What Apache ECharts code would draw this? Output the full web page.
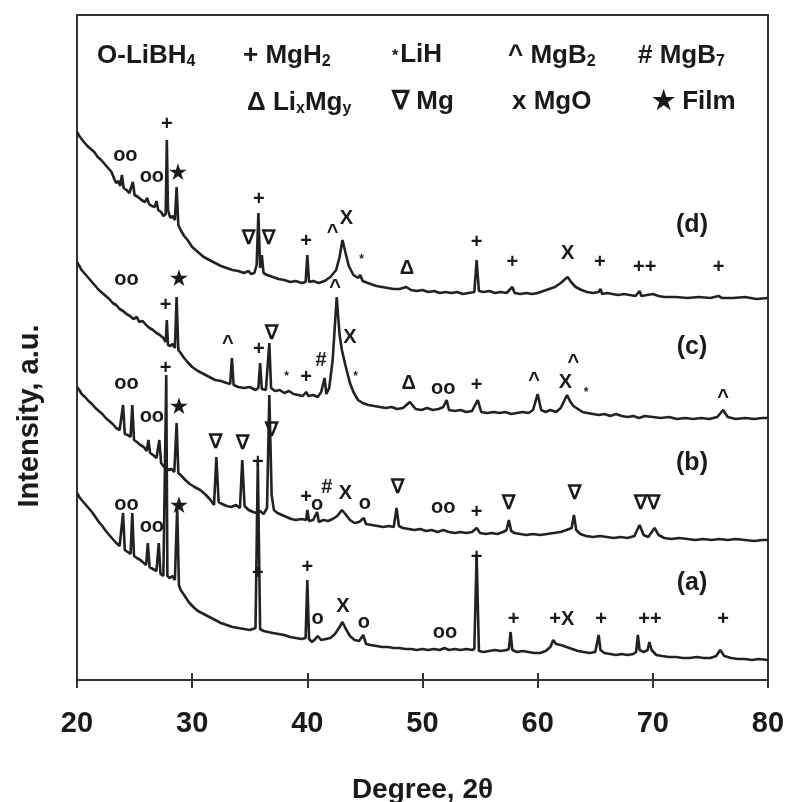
<!DOCTYPE html>
<html>
<head>
<meta charset="utf-8">
<script src="https://cdn.jsdelivr.net/npm/echarts@6/dist/echarts.min.js"></script>
<style>
  html, body { margin: 0; padding: 0; background: #fff; }
  #tu { width: 792px; height: 802px; }
</style>
</head>
<body>
<div id="tu"></div>
<script>
// x ticks
var xTicks = [20, 30, 40, 50, 60, 70, 80];

// XRD patterns, [2theta, intensity offset a.u.]
var curveD = [[20.0,548],[20.2,544],[20.4,541],[20.6,538],[20.9,534],[21.2,531],[21.5,528],[21.8,523],[22.1,520],[22.4,516],[22.7,512],[23.0,508],[23.2,502],[23.4,497],[23.6,499],[23.75,494],[23.9,505],[24.05,492],[24.3,490],[24.55,487],[24.7,489],[24.85,498],[25.0,485],[25.3,483],[25.6,480],[25.9,478],[26.1,482],[26.25,476],[26.5,474],[26.75,473],[26.9,479],[27.05,470],[27.3,468],[27.5,464],[27.7,466],[27.8,540],[27.9,470],[28.1,462],[28.3,464],[28.5,460],[28.65,493],[28.8,455],[29.0,450],[29.3,444],[29.6,440],[30.0,433],[30.5,428],[31.0,423],[31.5,420],[32.0,417],[32.5,414],[33.0,412],[33.5,410],[34.0,409],[34.5,407],[34.9,409],[35.1,406],[35.4,407],[35.6,415],[35.75,467],[35.9,412],[36.05,425],[36.2,407],[36.5,405],[37.0,403],[37.5,401],[38.0,400],[38.5,398],[39.0,399],[39.5,397],[39.85,398],[40.0,425],[40.15,398],[40.5,399],[41.0,397],[41.5,399],[42.0,403],[42.5,410],[42.8,423],[43.05,440],[43.3,428],[43.6,414],[44.0,405],[44.4,402],[44.6,405],[44.8,399],[45.5,396],[46.0,394],[46.5,393],[47.0,392],[47.5,391],[48.0,391],[48.6,393],[49.0,390],[49.5,389],[50.0,390],[50.5,388],[51.0,389],[51.5,387],[52.0,388],[52.5,387],[53.0,388],[53.5,386],[54.0,387],[54.5,388],[54.7,420],[54.9,389],[55.3,388],[55.8,389],[56.3,387],[56.8,388],[57.3,387],[57.8,393],[58.0,387],[58.5,386],[59.0,387],[59.5,386],[60.0,387],[60.5,389],[61.0,391],[61.5,393],[62.0,397],[62.3,400],[62.6,403],[62.9,398],[63.3,393],[63.8,390],[64.3,388],[64.8,387],[65.3,388],[65.45,391],[65.6,386],[66.0,387],[66.5,386],[67.0,385],[67.5,386],[68.0,385],[68.5,384],[68.85,389],[69.0,384],[69.5,385],[70.0,386],[70.5,384],[71.0,383],[72.0,383],[73.0,382],[74.0,383],[75.0,382],[75.7,384],[76.0,382],[77.0,382],[78.0,383],[79.0,381],[80.0,382]];

var curveC = [[20.0,418],[20.2,414],[20.4,410],[20.7,406],[21.0,402],[21.3,398],[21.6,394],[21.9,390],[22.2,387],[22.5,384],[22.8,381],[23.1,377],[23.4,375],[23.7,371],[24.0,369],[24.3,366],[24.6,364],[24.9,361],[25.2,363],[25.4,358],[25.7,359],[26.0,355],[26.3,352],[26.6,350],[26.9,347],[27.2,345],[27.5,342],[27.7,338],[27.8,360],[27.9,335],[28.1,334],[28.3,336],[28.5,332],[28.65,383],[28.8,330],[29.0,327],[29.3,322],[29.6,318],[30.0,313],[30.5,309],[31.0,306],[31.5,303],[32.0,300],[32.5,299],[33.0,297],[33.3,296],[33.45,322],[33.6,295],[34.0,293],[34.5,292],[35.0,293],[35.5,290],[35.75,292],[35.9,317],[36.05,291],[36.4,290],[36.55,292],[36.7,337],[36.85,292],[37.2,289],[37.6,290],[38.0,287],[38.4,289],[38.8,286],[39.2,285],[39.6,284],[39.9,288],[40.1,284],[40.5,285],[40.9,283],[41.2,288],[41.5,302],[41.65,286],[41.9,292],[42.2,320],[42.55,383],[42.8,345],[43.0,330],[43.3,315],[43.7,297],[44.0,288],[44.4,280],[44.8,277],[45.3,275],[45.8,274],[46.3,273],[46.8,272],[47.3,273],[47.8,271],[48.3,272],[48.9,278],[49.4,271],[49.9,270],[50.4,272],[50.9,270],[51.4,271],[51.8,273],[52.1,280],[52.3,270],[52.8,269],[53.3,270],[53.8,268],[54.3,269],[54.8,280],[55.1,268],[55.6,267],[56.2,268],[56.7,267],[57.2,268],[57.7,266],[58.2,267],[58.7,268],[59.2,267],[59.6,270],[60.0,286],[60.3,270],[60.7,268],[61.1,270],[61.6,268],[62.0,272],[62.3,279],[62.55,285],[62.8,279],[63.1,274],[63.5,271],[63.9,268],[64.3,267],[64.8,266],[65.3,265],[65.8,266],[66.3,264],[66.8,266],[67.3,264],[67.8,263],[68.3,264],[68.8,262],[69.3,264],[70.0,263],[70.7,262],[71.4,263],[72.1,261],[72.8,262],[73.5,261],[74.2,262],[74.9,261],[75.6,263],[76.1,270],[76.5,263],[77.2,261],[78.0,262],[78.8,261],[79.5,262],[80.0,262]];

var curveB = [[20.0,293],[20.2,290],[20.4,286],[20.7,283],[21.0,279],[21.3,276],[21.6,272],[21.9,269],[22.2,266],[22.5,262],[22.8,259],[23.1,256],[23.4,252],[23.7,250],[23.85,248],[24.0,275],[24.15,246],[24.4,245],[24.65,243],[24.8,275],[24.95,240],[25.2,238],[25.5,235],[25.8,233],[26.05,229],[26.2,240],[26.35,227],[26.6,225],[26.9,222],[27.05,220],[27.15,240],[27.3,217],[27.5,214],[27.7,212],[28.0,210],[28.2,211],[28.45,208],[28.65,257],[28.8,207],[29.0,205],[29.4,200],[29.8,196],[30.2,193],[30.7,190],[31.2,185],[31.6,180],[31.9,175],[32.1,223],[32.3,178],[32.6,176],[33.0,174],[33.4,173],[33.8,175],[34.15,172],[34.35,220],[34.55,174],[34.9,170],[35.3,168],[35.6,167],[35.9,169],[36.2,166],[36.5,172],[36.7,285],[36.9,185],[37.1,170],[37.4,167],[37.8,165],[38.2,163],[38.6,161],[39.0,160],[39.5,161],[39.9,160],[40.0,170],[40.15,159],[40.5,160],[40.85,168],[41.0,158],[41.4,160],[41.8,159],[42.2,161],[42.6,164],[43.0,170],[43.3,166],[43.7,160],[44.1,157],[44.5,158],[44.9,162],[45.1,156],[45.6,155],[46.1,154],[46.6,153],[47.1,154],[47.5,153],[47.75,172],[47.95,154],[48.3,152],[48.8,151],[49.3,150],[49.8,151],[50.3,149],[50.8,150],[51.3,148],[51.8,150],[52.3,148],[52.8,147],[53.3,148],[53.8,147],[54.3,148],[54.7,152],[55.0,147],[55.5,146],[56.0,147],[56.5,146],[57.0,148],[57.3,150],[57.5,160],[57.7,149],[58.0,147],[58.5,146],[59.0,145],[59.6,146],[60.2,145],[60.8,146],[61.4,147],[62.0,148],[62.5,150],[62.95,152],[63.15,165],[63.35,150],[63.7,146],[64.2,144],[64.8,143],[65.4,144],[66.0,143],[66.6,142],[67.2,143],[67.8,142],[68.4,144],[68.85,155],[69.2,145],[69.6,143],[70.15,152],[70.5,145],[71.0,142],[71.6,141],[72.3,142],[73.0,141],[73.7,140],[74.4,141],[75.1,140],[75.8,141],[76.5,140],[77.2,141],[78.0,140],[78.8,139],[79.5,140],[80.0,140]];

var curveA = [[20.0,187],[20.2,183],[20.4,180],[20.7,176],[21.0,172],[21.3,168],[21.6,163],[21.9,158],[22.2,154],[22.5,149],[22.8,145],[23.1,141],[23.4,137],[23.7,134],[23.85,132],[24.0,167],[24.15,130],[24.4,128],[24.65,126],[24.8,167],[24.95,124],[25.2,122],[25.5,120],[25.8,117],[26.0,115],[26.15,137],[26.3,113],[26.6,111],[26.9,109],[27.0,108],[27.1,137],[27.25,106],[27.5,104],[27.65,103],[27.75,305],[27.85,104],[28.05,102],[28.3,104],[28.5,100],[28.7,173],[28.85,95],[29.0,90],[29.3,85],[29.7,78],[30.1,73],[30.5,69],[31.0,66],[31.5,63],[32.0,60],[32.5,57],[33.0,55],[33.5,53],[34.0,52],[34.5,51],[35.0,50],[35.5,52],[35.7,218],[35.9,51],[36.2,49],[36.6,48],[37.0,47],[37.5,46],[38.0,45],[38.5,43],[39.0,42],[39.5,41],[39.85,42],[40.0,100],[40.15,41],[40.4,38],[40.7,41],[40.9,44],[41.2,40],[41.6,41],[42.0,42],[42.4,46],[42.8,53],[43.05,58],[43.3,52],[43.7,44],[44.1,40],[44.5,39],[44.85,45],[45.1,36],[45.5,35],[46.0,34],[46.5,33],[47.0,33],[47.5,32],[48.0,32],[48.5,31],[49.0,31],[49.5,30],[50.0,31],[50.5,30],[51.0,31],[51.5,30],[51.9,32],[52.3,30],[52.8,31],[53.3,30],[53.8,31],[54.3,30],[54.5,31],[54.7,125],[54.9,29],[55.3,28],[55.8,29],[56.3,30],[56.8,29],[57.3,30],[57.5,31],[57.65,48],[57.8,30],[58.2,28],[58.7,29],[59.2,28],[59.7,27],[60.2,27],[60.7,29],[61.1,33],[61.35,40],[61.6,36],[62.0,35],[62.5,33],[63.0,31],[63.5,29],[64.0,28],[64.5,27],[65.0,28],[65.15,30],[65.3,45],[65.45,30],[65.8,27],[66.3,26],[66.8,25],[67.3,26],[67.8,25],[68.3,26],[68.55,28],[68.7,45],[68.85,30],[69.2,28],[69.55,30],[69.7,38],[69.9,30],[70.3,25],[70.8,24],[71.4,23],[72.0,23],[72.6,22],[73.2,22],[73.8,23],[74.4,22],[75.0,22],[75.5,24],[75.85,30],[76.2,24],[76.8,22],[77.4,21],[78.0,21],[78.6,20],[79.2,21],[80.0,20]];

// phase marks above the peaks, [2theta, height, symbol]
var marksD = [[24.2,525,'oo'],[26.5,504,'oo'],[28.75,507,'★'],[27.8,556,'+'],[35.8,481,'+'],[34.85,442,'∇'],[36.6,442,'∇'],[39.9,439,'+'],[42.2,448,'^'],[43.4,462,'X'],[44.7,420,'*'],[48.65,412,'Δ'],[54.7,438,'+'],[57.8,418,'+'],[62.6,427,'X'],[65.4,418,'+'],[69.3,413,'++'],[75.7,413,'+']];
var marksC = [[24.3,401,'oo'],[28.85,401,'★'],[27.7,375,'+'],[33.1,337,'^'],[35.8,331,'+'],[36.85,347,'∇'],[38.2,303,'*'],[39.9,303,'+'],[41.2,320,'#'],[42.4,393,'^'],[43.7,343,'X'],[44.2,303,'*'],[48.8,297,'Δ'],[51.8,292,'oo'],[54.7,295,'+'],[59.7,300,'^'],[62.4,298,'X'],[63.1,318,'^'],[64.2,287,'*'],[76.1,283,'^']];
var marksB = [[24.3,297,'oo'],[26.5,264,'oo'],[28.9,273,'★'],[32.0,238,'∇'],[34.4,237,'∇'],[36.85,250,'∇'],[35.7,218,'+'],[39.9,183,'+'],[40.85,176,'o'],[41.7,193,'#'],[43.3,187,'X'],[45.0,177,'o'],[47.8,193,'∇'],[51.8,173,'oo'],[54.7,168,'+'],[57.5,177,'∇'],[63.2,187,'∇'],[69.5,177,'∇∇']];
var marksA = [[24.3,176,'oo'],[26.5,154,'oo'],[28.85,174,'★'],[27.7,312,'+'],[35.7,107,'+'],[40.0,113,'+'],[40.9,62,'o'],[43.1,74,'X'],[44.9,58,'o'],[51.95,48,'oo'],[54.7,123,'+'],[57.9,61,'+'],[62.1,61,'+X'],[65.5,61,'+'],[69.75,61,'++'],[76.1,61,'+']];
var sampleTags = [[73.4,455,'(d)'],[73.4,333,'(c)'],[73.4,217,'(b)'],[73.4,97,'(a)']];

var fam = 'Liberation Sans, Arial, sans-serif';
var ink = '#1a1a1a';

function markSeries(list, size) {
    return {
        type: 'scatter',
        symbolSize: 0,
        silent: true,
        z: 5,
        itemStyle: { opacity: 1 },
        data: list.map(function (m) {
            return {
                value: [m[0], m[1]],
                label: {
                    show: true,
                    position: 'inside',
                    formatter: m[2],
                    color: ink,
                    opacity: 1,
                    textBorderWidth: 0,
                    fontFamily: fam,
                    fontWeight: 'bold',
                    fontSize: m[2] === '*' ? 12 : size
                }
            };
        })
    };
}

function lineSeries(pts) {
    return {
        type: 'line',
        data: pts,
        showSymbol: false,
        symbol: 'none',
        silent: true,
        lineStyle: { color: '#222', width: 2.6 },
        z: 3
    };
}

var sub = { fontSize: 16, fontWeight: 'bold', fontFamily: fam, fill: ink, padding: [12, 0, 0, 0] };
var big = { fontSize: 26, fontWeight: 'bold', fontFamily: fam, fill: ink };
var dot = { fontSize: 16, fontWeight: 'bold', fontFamily: fam, fill: ink, padding: [4, 2, 0, 0] };
function legendText(x, y, txt) {
    return {
        type: 'text',
        x: x,
        y: y,
        style: {
            text: txt,
            fontSize: 26,
            fontWeight: 'bold',
            fontFamily: fam,
            fill: ink,
            rich: { n: big, s: sub, d: dot }
        }
    };
}

var myChart = echarts.init(document.getElementById('tu'));

var option = {
    animation: false,
    backgroundColor: '#fff',
    grid: {
        left: 77, right: 24, top: 15, bottom: 122,
        outerBoundsMode: 'none',
        containLabel: false,
        show: true, borderColor: '#333', borderWidth: 2
    },
    xAxis: [{
        type: 'value',
        min: xTicks[0],
        max: xTicks[xTicks.length - 1],
        interval: 10,
        axisLine: { lineStyle: { color: '#333', width: 2 } },
        axisTick: { length: 8, lineStyle: { color: '#333', width: 2 } },
        splitLine: { show: false },
        axisLabel: { margin: 29, color: ink, fontSize: 29, fontWeight: 'bold', fontFamily: fam },
        name: 'Degree, 2θ',
        nameLocation: 'middle',
        nameGap: 96,
        nameTextStyle: { color: ink, fontSize: 28, fontWeight: 'bold', fontFamily: fam }
    }, {
        type: 'value',
        position: 'bottom',
        min: xTicks[0],
        max: xTicks[xTicks.length - 1],
        interval: 10,
        axisLine: { show: false },
        axisTick: { inside: true, length: 7, lineStyle: { color: '#333', width: 2 } },
        axisLabel: { show: false },
        splitLine: { show: false }
    }],
    yAxis: {
        type: 'value',
        min: 0,
        max: 665,
        axisLine: { show: true, lineStyle: { color: '#333', width: 2 } },
        axisTick: { show: false },
        axisLabel: { show: false },
        splitLine: { show: false }
    },
    graphic: [
        legendText(97, 42, '{n|O-LiBH}{s|4}'),
        legendText(243, 42, '{n|+ MgH}{s|2}'),
        legendText(392, 42, '{d|*}{n|LiH}'),
        legendText(508, 42, '{n|^ MgB}{s|2}'),
        legendText(638, 42, '{n|# MgB}{s|7}'),
        legendText(247, 89, '{n|Δ Li}{s|x}{n|Mg}{s|y}'),
        legendText(392, 89, '{n|∇ Mg}'),
        legendText(512, 89, '{n|x MgO}'),
        legendText(652, 89, '{n|★ Film}'),
        {
            type: 'text',
            x: 30,
            y: 416,
            rotation: Math.PI / 2,
            style: {
                text: 'Intensity, a.u.',
                fontSize: 29,
                fontWeight: 'bold',
                fontFamily: fam,
                fill: ink,
                align: 'center',
                verticalAlign: 'middle'
            }
        }
    ],
    series: [
        lineSeries(curveD),
        lineSeries(curveC),
        lineSeries(curveB),
        lineSeries(curveA),
        markSeries(marksD, 20),
        markSeries(marksC, 20),
        markSeries(marksB, 20),
        markSeries(marksA, 20),
        markSeries(sampleTags, 25)
    ]
};

myChart.setOption(option);
</script>
</body>
</html>
